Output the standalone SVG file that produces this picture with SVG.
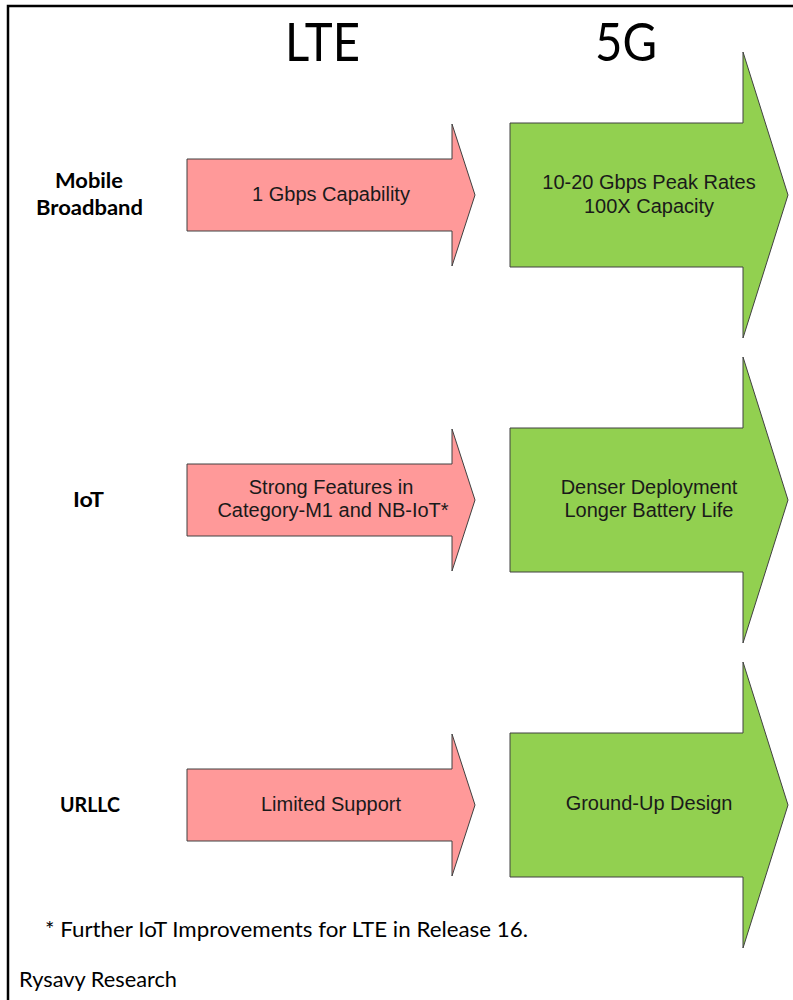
<svg xmlns="http://www.w3.org/2000/svg" width="793" height="1000" viewBox="0 0 793 1000">
<style>
.frame{fill:#fff;stroke:#000;stroke-width:2.5}
.lte{fill:#FF9999;stroke:#404040;stroke-width:1}
.g5{fill:#92D050;stroke:#404040;stroke-width:1}
.title{font-family:Lato,"Open Sans",sans-serif;font-size:53px;fill:#000}
.row{font-family:Lato,"Open Sans",sans-serif;font-weight:bold;font-size:21px;fill:#000}
.atxt{font-family:"Liberation Sans",Arial,sans-serif;font-size:20px;fill:#1a1a1a;text-anchor:middle}
.note{font-family:Lato,"Open Sans",sans-serif;font-size:21px;fill:#000}
</style>
<defs>
<path id="redArrow" d="M187,-36 H452 V-71 L475,0 L452,71 V36 H187 Z"/>
<path id="greenArrow" d="M510,-72 H743 V-143 L788,0 L743,143 V72 H510 Z"/>
</defs>
<rect class="frame" x="8" y="6" width="800" height="1010"/>
<g id="titles">
<text class="title" x="285" y="61" textLength="75" lengthAdjust="spacingAndGlyphs">LTE</text>
<text class="title" x="595" y="61" textLength="62" lengthAdjust="spacingAndGlyphs">5G</text>
</g>
<g id="row-labels">
<text class="row" x="55" y="188" textLength="68" lengthAdjust="spacingAndGlyphs">Mobile</text>
<text class="row" x="36" y="215" textLength="107" lengthAdjust="spacingAndGlyphs">Broadband</text>
<text class="row" x="73" y="507" textLength="31" lengthAdjust="spacingAndGlyphs">IoT</text>
<text class="row" x="60" y="812" textLength="60" lengthAdjust="spacingAndGlyphs">URLLC</text>
</g>
<g id="connectors"></g>
<g id="lte-mbb">
<use href="#redArrow" class="lte" transform="translate(0,195)"/>
<text class="atxt" x="331" y="201">1 Gbps Capability</text>
</g>
<g id="g5-mbb">
<use href="#greenArrow" class="g5" transform="translate(0,195)"/>
<text class="atxt" x="649" y="189">10-20 Gbps Peak Rates</text>
<text class="atxt" x="649" y="213">100X Capacity</text>
</g>
<g id="lte-iot">
<use href="#redArrow" class="lte" transform="translate(0,500)"/>
<text class="atxt" x="331" y="494">Strong Features in</text>
<text class="atxt" x="333" y="517">Category-M1 and NB-IoT*</text>
</g>
<g id="g5-iot">
<use href="#greenArrow" class="g5" transform="translate(0,500)"/>
<text class="atxt" x="649" y="494">Denser Deployment</text>
<text class="atxt" x="649" y="517">Longer Battery Life</text>
</g>
<g id="lte-urllc">
<use href="#redArrow" class="lte" transform="translate(0,805)"/>
<text class="atxt" x="331" y="811">Limited Support</text>
</g>
<g id="g5-urllc">
<use href="#greenArrow" class="g5" transform="translate(0,805)"/>
<text class="atxt" x="649" y="810">Ground-Up Design</text>
</g>
<g id="notes">
<text class="note" x="45" y="937" textLength="483" lengthAdjust="spacingAndGlyphs">* Further IoT Improvements for LTE in Release 16.</text>
<text class="note" x="19" y="987" textLength="158" lengthAdjust="spacingAndGlyphs">Rysavy Research</text>
</g>
</svg>
